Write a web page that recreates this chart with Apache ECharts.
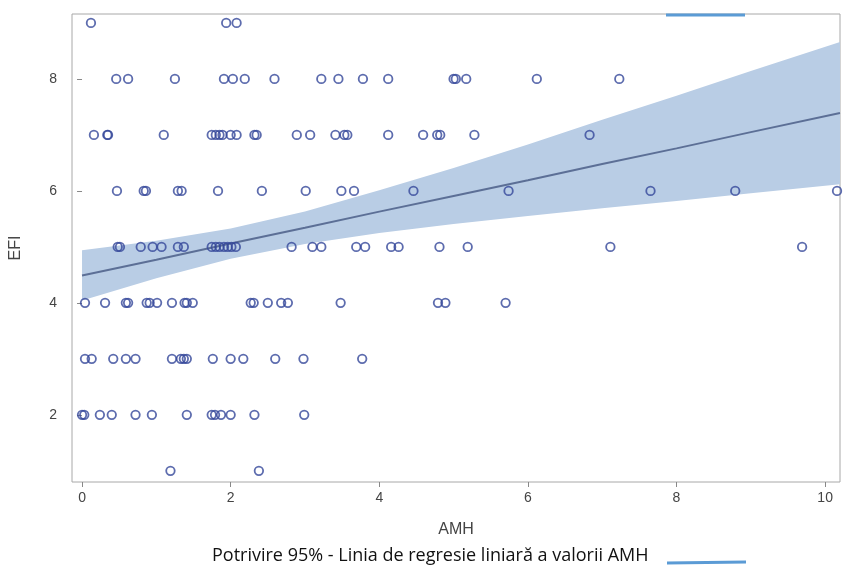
<!DOCTYPE html>
<html lang="ro">

<head>
    <meta charset="UTF-8">
    <title>EFI vs AMH</title>
    <style>
        body { margin: 0; background: #fff; }
    </style>
</head>

<body>
    <div id="main" style="width: 843px;height: 569px;"></div>
    <script src="https://cdn.jsdelivr.net/npm/echarts@6/dist/echarts.min.js"></script>
    <script>
        // AMH values for each EFI level
        var amhEfi9 = [0.12, 1.94, 2.08];
        var amhEfi8 = [0.46, 0.62, 1.25, 1.91, 2.03, 2.19, 2.59, 3.22, 3.45, 3.78, 4.12, 5.0, 5.03, 5.17, 6.12, 7.23];
        var amhEfi7 = [0.16, 0.34, 0.35, 1.10, 1.745, 1.80, 1.85, 1.89, 2.0, 2.08, 2.32, 2.35, 2.89, 3.07, 3.41, 3.53, 3.57, 4.12, 4.59, 4.78, 4.82, 5.28, 6.83];
        var amhEfi6 = [0.47, 0.83, 0.86, 1.29, 1.34, 1.83, 2.42, 3.01, 3.49, 3.66, 4.46, 5.74, 7.65, 8.79, 10.16];
        var amhEfi5 = [0.48, 0.51, 0.79, 0.95, 1.07, 1.29, 1.37, 1.745, 1.80, 1.85, 1.91, 1.96, 2.01, 2.07, 2.82, 3.10, 3.22, 3.69, 3.81, 4.16, 4.26, 4.81, 5.19, 7.11, 9.69];
        var amhEfi4 = [0.04, 0.31, 0.59, 0.62, 0.87, 0.91, 1.01, 1.21, 1.38, 1.41, 1.49, 2.27, 2.31, 2.50, 2.68, 2.77, 3.48, 4.79, 4.89, 5.70];
        var amhEfi3 = [0.04, 0.13, 0.42, 0.59, 0.72, 1.21, 1.33, 1.37, 1.41, 1.76, 2.0, 2.17, 2.60, 2.98, 3.77];
        var amhEfi2 = [0.0, 0.03, 0.24, 0.40, 0.72, 0.94, 1.41, 1.745, 1.79, 1.87, 2.0, 2.32, 2.99];
        var amhEfi1 = [1.19, 2.38];

        // regression line and 95% band, read at several AMH values
        var fitX = [0, 1, 2, 3, 4, 5, 6, 7, 8, 9, 10.2];
        var fitY = [4.49, 4.77, 5.06, 5.34, 5.63, 5.91, 6.19, 6.48, 6.76, 7.05, 7.39];
        var bandLow = [4.04, 4.44, 4.79, 5.05, 5.25, 5.41, 5.55, 5.69, 5.82, 5.96, 6.12];
        var bandHigh = [4.94, 5.11, 5.33, 5.63, 6.01, 6.41, 6.83, 7.27, 7.70, 8.14, 8.66];

        var xTicks = [0, 2, 4, 6, 8, 10];
        var yTicks = [2, 4, 6, 8];

        var groups = [[9, amhEfi9], [8, amhEfi8], [7, amhEfi7], [6, amhEfi6], [5, amhEfi5],
                      [4, amhEfi4], [3, amhEfi3], [2, amhEfi2], [1, amhEfi1]];
        var points = [];
        groups.forEach(function (g) {
            g[1].forEach(function (x) { points.push([x, g[0]]); });
        });

        var bandData = fitX.map(function (x, i) { return [x, bandLow[i], bandHigh[i]]; });
        var lineData = fitX.map(function (x, i) { return [x, fitY[i]]; });

        // confidence band drawn as one polygon through the axis scales
        function renderBand(params, api) {
            if (params.dataIndex !== 0) return;
            var upper = [], lower = [];
            for (var i = 0; i < bandData.length; i++) {
                upper.push(api.coord([bandData[i][0], bandData[i][2]]));
                lower.push(api.coord([bandData[i][0], bandData[i][1]]));
            }
            return {
                type: 'polygon',
                shape: { points: upper.concat(lower.reverse()) },
                style: { fill: '#b9cde5' }
            };
        }

        var chart = echarts.init(document.getElementById('main'));
        var font = 'Liberation Sans, Arial, sans-serif';

        chart.setOption({
            animation: false,
            grid: {
                left: 71, right: 3, top: 14, bottom: 87,
                show: true,
                borderColor: '#a8a8a8',
                borderWidth: 1
            },
            xAxis: {
                type: 'value',
                min: -0.135,
                max: 10.2,
                name: 'AMH',
                nameLocation: 'middle',
                nameGap: 40,
                nameTextStyle: { fontFamily: font, fontSize: 16, color: '#444' },
                axisLine: { show: false },
                splitLine: { show: false },
                axisTick: { show: true, length: 5, lineStyle: { color: '#888' }, customValues: xTicks },
                axisLabel: { customValues: xTicks, margin: 9, fontFamily: font, fontSize: 14, color: '#444' }
            },
            yAxis: {
                type: 'value',
                min: 0.8,
                max: 9.16,
                name: 'EFI',
                nameLocation: 'middle',
                nameRotate: 90,
                nameGap: 48,
                nameTextStyle: { fontFamily: font, fontSize: 16, color: '#444' },
                axisLine: { show: false },
                splitLine: { show: false },
                axisTick: { show: true, length: 5, lineStyle: { color: '#888' }, customValues: yTicks },
                axisLabel: { customValues: yTicks, margin: 15, fontFamily: font, fontSize: 14, color: '#444' }
            },
            series: [
                {
                    type: 'custom',
                    data: bandData,
                    renderItem: renderBand,
                    encode: { x: 0, y: [1, 2] },
                    silent: true,
                    z: 1
                },
                {
                    type: 'line',
                    data: lineData,
                    symbol: 'none',
                    lineStyle: { color: '#5c6f96', width: 2 },
                    z: 2
                },
                {
                    type: 'scatter',
                    data: points,
                    symbol: 'circle',
                    symbolSize: 8.5,
                    itemStyle: { color: 'rgba(0,0,0,0)', borderColor: '#34479a', borderWidth: 1.8 },
                    z: 3
                }
            ],
            graphic: [
                {
                    type: 'text',
                    left: 212,
                    top: 547,
                    style: {
                        text: 'Potrivire 95% - Linia de regresie liniară a valorii AMH',
                        fontFamily: 'Open Sans, sans-serif',
                        fontSize: 18,
                        fill: '#111'
                    }
                },
                {
                    type: 'line',
                    shape: { x1: 667, y1: 563, x2: 746, y2: 562 },
                    style: { stroke: '#5b9bd5', lineWidth: 3 }
                },
                {
                    type: 'line',
                    shape: { x1: 666, y1: 15, x2: 745, y2: 15 },
                    style: { stroke: '#5b9bd5', lineWidth: 3 }
                }
            ]
        });
    </script>
</body>

</html>
